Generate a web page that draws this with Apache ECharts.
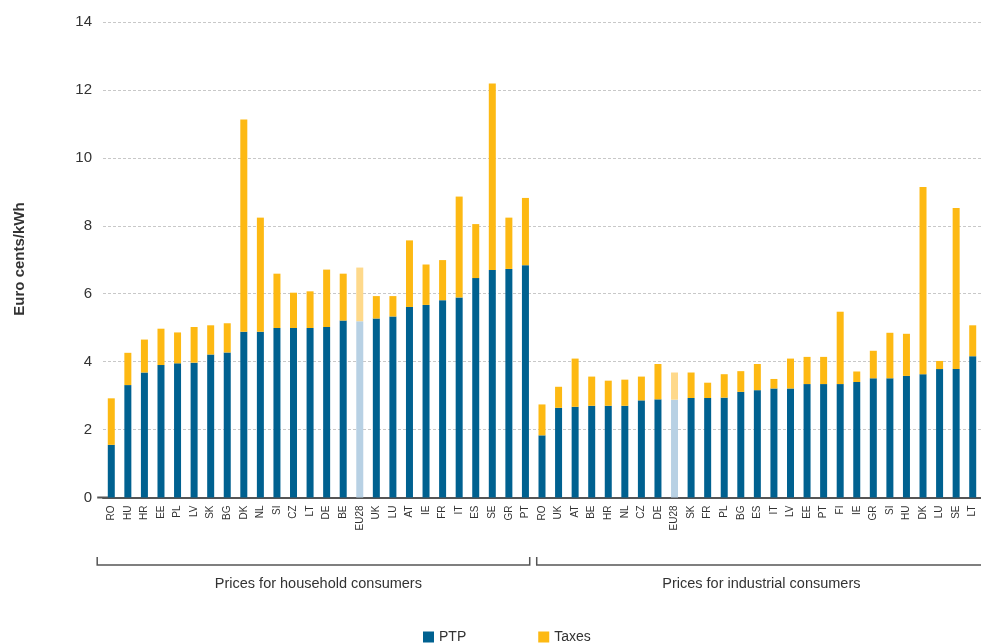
<!DOCTYPE html>
<html><head><meta charset="utf-8">
<script src="https://cdn.jsdelivr.net/npm/echarts@6/dist/echarts.min.js"></script>
<style>html,body{margin:0;padding:0;background:#fff}#c{width:981px;height:643px}</style>
</head><body><div id="c"></div>
<script>
const householdCountries = ['RO','HU','HR','EE','PL','LV','SK','BG','DK','NL','SI','CZ','LT','DE','BE','EU28','UK','LU','AT','IE','FR','IT','ES','SE','GR','PT'];
const householdPTP   = [1.55,3.31,3.68,3.90,3.95,3.97,4.21,4.27,4.88,4.88,4.99,4.99,4.99,5.02,5.21,5.19,5.27,5.33,5.61,5.67,5.81,5.89,6.46,6.70,6.73,6.84];
const householdTaxes = [1.37,0.95,0.97,1.07,0.91,1.05,0.86,0.86,6.25,3.36,1.60,1.04,1.08,1.69,1.38,1.58,0.66,0.60,1.96,1.19,1.18,2.97,1.59,5.49,1.51,1.98];
const industrialCountries = ['RO','UK','AT','BE','HR','NL','CZ','DE','EU28','SK','FR','PL','BG','ES','IT','LV','EE','PT','FI','IE','GR','SI','HU','DK','LU','SE','LT'];
const industrialPTP   = [1.83,2.64,2.67,2.70,2.70,2.70,2.86,2.89,2.88,2.93,2.93,2.94,3.11,3.16,3.21,3.21,3.34,3.34,3.34,3.40,3.51,3.51,3.58,3.63,3.78,3.78,4.16];
const industrialTaxes = [0.91,0.62,1.42,0.86,0.74,0.77,0.70,1.04,0.80,0.75,0.45,0.69,0.61,0.77,0.28,0.88,0.80,0.80,2.13,0.31,0.81,1.34,1.24,5.51,0.24,4.74,0.91];
const yTicks = [0,2,4,6,8,10,12,14];
const groupLabels = ['Prices for household consumers','Prices for industrial consumers'];
const seriesNames = ['PTP','Taxes'];
const yAxisTitle = 'Euro cents/kWh';

const COL_PTP = '#006190', COL_TAX = '#fdb913', COL_PTP_EU = '#b8d1e4', COL_TAX_EU = '#fed98b';
const FONT = 'Liberation Sans, Arial, sans-serif';

const cats = householdCountries.map(c => c + '#h').concat(industrialCountries.map(c => c + '#i'));
const allCountries = householdCountries.concat(industrialCountries);
const ptp = householdPTP.concat(industrialPTP);
const tax = householdTaxes.concat(industrialTaxes);
const mk = (vals, euCol) => vals.map((v, i) => allCountries[i] === 'EU28' ? {value: v, itemStyle: {color: euCol}} : v);

const chart = echarts.init(document.getElementById('c'), null, {renderer: 'canvas'});
chart.setOption({
  animation: false,
  backgroundColor: '#fff',
  textStyle: {fontFamily: FONT},
  grid: {left: 103, top: 22, width: 882, height: 475.5, containLabel: false},
  legend: {
    data: seriesNames, left: 418, top: 625, icon: 'rect', itemWidth: 11, itemHeight: 11,
    itemGap: 72, textStyle: {fontSize: 14, color: '#333', fontFamily: FONT}
  },
  xAxis: {
    type: 'category', data: cats,
    axisLine: {lineStyle: {color: '#555', width: 2}},
    axisTick: {show: false},
    axisLabel: {interval: 0, rotate: 90, margin: 8, fontSize: 10, color: '#333', fontFamily: FONT,
      formatter: v => v.split('#')[0]}
  },
  yAxis: {
    type: 'value', min: yTicks[0], max: yTicks[yTicks.length - 1], interval: 2,
    axisLine: {show: false}, axisTick: {show: false},
    axisLabel: {fontSize: 15, color: '#333', margin: 11, fontFamily: FONT},
    splitLine: {lineStyle: {color: '#c8c8c8', type: [3, 2], width: 1}}
  },
  series: [
    {name: seriesNames[0], type: 'bar', stack: 's', barWidth: 7, itemStyle: {color: COL_PTP}, data: mk(ptp, COL_PTP_EU)},
    {name: seriesNames[1], type: 'bar', stack: 's', barWidth: 7, itemStyle: {color: COL_TAX}, data: mk(tax, COL_TAX_EU)}
  ]
});

// brackets and group labels placed from axis positions
const px = i => chart.convertToPixel({xAxisIndex: 0}, cats[i]);
const nH = householdCountries.length, nAll = cats.length;
const step = px(1) - px(0);
const mid = (px(nH - 1) + px(nH)) / 2;
const leftStart = px(0) - step * 0.85;
const rightEnd = px(nAll - 1) + step;
const yb = 565, yt = 557;
const lineStyle = {stroke: '#555', lineWidth: 1.5, fill: null};
chart.setOption({
  graphic: [
    {type: 'line', shape: {x1: leftStart, y1: 497.5, x2: px(0), y2: 497.5}, style: {stroke: '#555', lineWidth: 2}},
    {type: 'polyline', shape: {points: [[leftStart, yt], [leftStart, yb], [mid - 4, yb], [mid - 4, yt]]}, style: lineStyle},
    {type: 'polyline', shape: {points: [[mid + 3, yt], [mid + 3, yb], [rightEnd, yb]]}, style: lineStyle},
    {type: 'text', x: (px(0) + px(nH - 1)) / 2, y: 584, style: {text: groupLabels[0], fill: '#333', font: '14.5px ' + FONT, textAlign: 'center', textVerticalAlign: 'middle'}},
    {type: 'text', x: (px(nH) + px(nAll - 1)) / 2 + 4, y: 584, style: {text: groupLabels[1], fill: '#333', font: '14.5px ' + FONT, textAlign: 'center', textVerticalAlign: 'middle'}},
    {type: 'text', x: 20, y: 259, rotation: Math.PI / 2, style: {text: yAxisTitle, font: 'bold 15px ' + FONT, fill: '#333', textAlign: 'center', textVerticalAlign: 'middle'}}
  ]
});
</script></body></html>
